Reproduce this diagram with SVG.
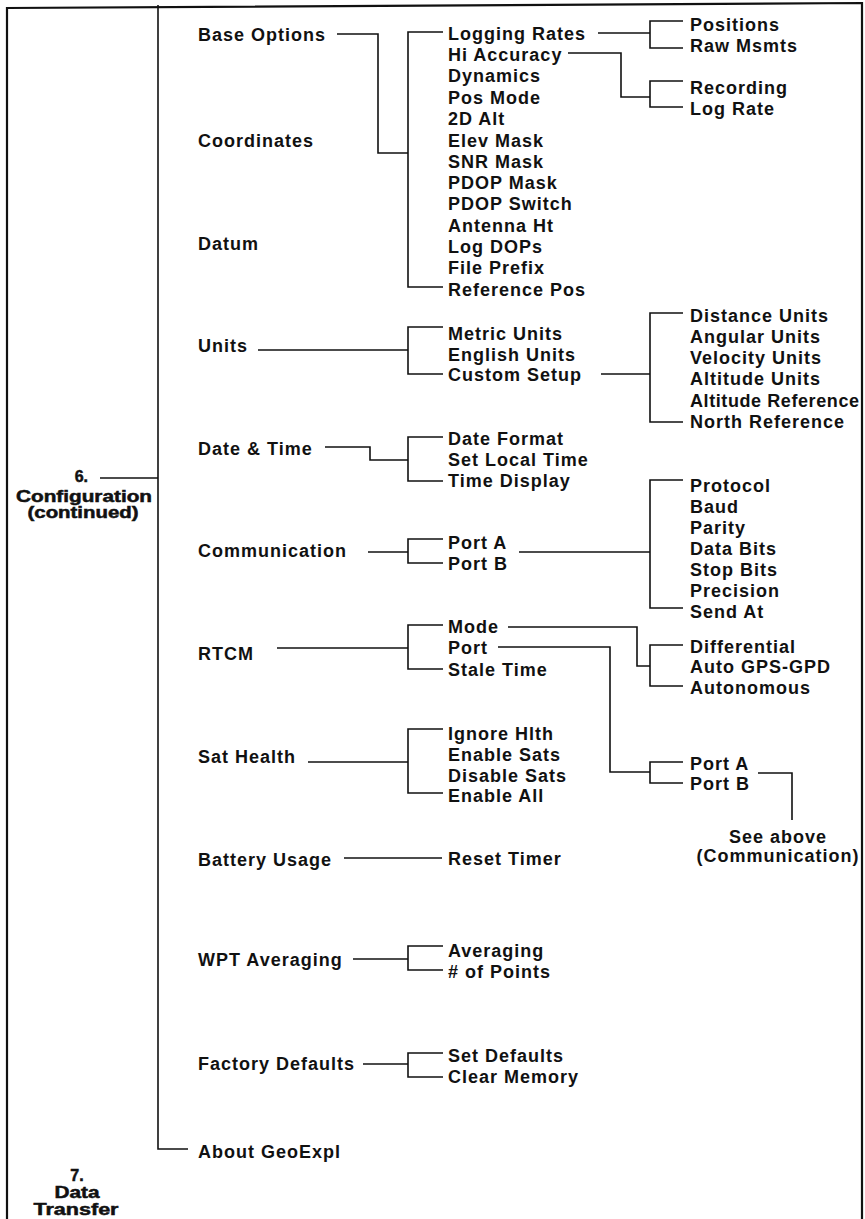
<svg xmlns="http://www.w3.org/2000/svg" width="865" height="1219" viewBox="0 0 865 1219">
<style>
.t{font-family:"Liberation Sans",Arial,sans-serif;font-size:18px;font-weight:bold;letter-spacing:1px;fill:#111}
.h{font-family:"Liberation Sans",Arial,sans-serif;font-size:16px;font-weight:bold;fill:#111;stroke:#111;stroke-width:0.5;text-anchor:middle}
.m{text-anchor:middle}
.e{text-anchor:end}
.c{fill:none;stroke:#111;stroke-width:1.6}
.f{fill:none;stroke:#111;stroke-width:2.2}
</style>
<rect width="865" height="1219" fill="#fff"/>
<path class="f" d="M7,1219 V8 L862,3 V1219"/>
<g id="connectors">
<path class="c" d="M158,5 V1149 H188"/>
<path class="c" d="M100,478 H158"/>
<path class="c" d="M337,34 H378 V153 H408"/>
<path class="c" d="M443,32 H408 V287 H443"/>
<path class="c" d="M598,33 H650"/>
<path class="c" d="M683,21 H650 V48 H683"/>
<path class="c" d="M568,53 H621 V97 H650"/>
<path class="c" d="M683,81 H650 V107 H683"/>
<path class="c" d="M258,350 H408"/>
<path class="c" d="M443,327 H408 V374 H443"/>
<path class="c" d="M601,374 H650"/>
<path class="c" d="M683,313 H650 V422 H683"/>
<path class="c" d="M325,447 H370 V460 H408"/>
<path class="c" d="M443,437 H408 V481 H443"/>
<path class="c" d="M368,552 H408"/>
<path class="c" d="M443,539 H408 V563 H443"/>
<path class="c" d="M519,552 H650"/>
<path class="c" d="M683,480 H650 V608 H683"/>
<path class="c" d="M277,648 H408"/>
<path class="c" d="M443,625 H408 V669 H443"/>
<path class="c" d="M508,627 H637 V666 H650"/>
<path class="c" d="M683,645 H650 V686 H683"/>
<path class="c" d="M498,647 H610 V772 H650"/>
<path class="c" d="M683,762 H650 V783 H683"/>
<path class="c" d="M758,773 H792 V820"/>
<path class="c" d="M308,762 H408"/>
<path class="c" d="M443,729 H408 V793 H443"/>
<path class="c" d="M344,858 H442"/>
<path class="c" d="M353,959 H408"/>
<path class="c" d="M443,946 H408 V970 H443"/>
<path class="c" d="M363,1064 H408"/>
<path class="c" d="M443,1053 H408 V1077 H443"/>
</g>
<g id="n-config">
<text class="h e" x="88" y="482" style="text-anchor:end">6.</text>
<text class="h" x="84" y="502" textLength="136" lengthAdjust="spacingAndGlyphs">Configuration</text>
<text class="h" x="83" y="518" textLength="111" lengthAdjust="spacingAndGlyphs">(continued)</text>
</g>
<g id="n-datatransfer">
<text class="h" x="77" y="1181">7.</text>
<text class="h" x="77" y="1198" textLength="45" lengthAdjust="spacingAndGlyphs">Data</text>
<text class="h" x="76" y="1215" textLength="85" lengthAdjust="spacingAndGlyphs">Transfer</text>
</g>
<g id="n-baseoptions"><text class="t" x="198" y="40.5">Base Options</text></g>
<g id="n-coordinates"><text class="t" x="198" y="146.5">Coordinates</text></g>
<g id="n-datum"><text class="t" x="198" y="250">Datum</text></g>
<g id="n-units"><text class="t" x="198" y="352">Units</text></g>
<g id="n-datetime"><text class="t" x="198" y="455">Date &amp; Time</text></g>
<g id="n-communication"><text class="t" x="198" y="557">Communication</text></g>
<g id="n-rtcm"><text class="t" x="198" y="660">RTCM</text></g>
<g id="n-sathealth"><text class="t" x="198" y="763">Sat Health</text></g>
<g id="n-battery"><text class="t" x="198" y="866">Battery Usage</text></g>
<g id="n-wpt"><text class="t" x="198" y="966">WPT Averaging</text></g>
<g id="n-factory"><text class="t" x="198" y="1070">Factory Defaults</text></g>
<g id="n-about"><text class="t" x="198" y="1158">About GeoExpl</text></g>
<g id="n-baseoptions-list">
<text class="t" x="448" y="39.5">Logging Rates</text>
<text class="t" x="448" y="61">Hi Accuracy</text>
<text class="t" x="448" y="82">Dynamics</text>
<text class="t" x="448" y="104">Pos Mode</text>
<text class="t" x="448" y="125">2D Alt</text>
<text class="t" x="448" y="146.5">Elev Mask</text>
<text class="t" x="448" y="168">SNR Mask</text>
<text class="t" x="448" y="189">PDOP Mask</text>
<text class="t" x="448" y="210">PDOP Switch</text>
<text class="t" x="448" y="231.5">Antenna Ht</text>
<text class="t" x="448" y="253">Log DOPs</text>
<text class="t" x="448" y="274">File Prefix</text>
<text class="t" x="448" y="295.5">Reference Pos</text>
</g>
<g id="n-logging-list">
<text class="t" x="690" y="30.5">Positions</text>
<text class="t" x="690" y="51.5">Raw Msmts</text>
</g>
<g id="n-hiacc-list">
<text class="t" x="690" y="94">Recording</text>
<text class="t" x="690" y="115">Log Rate</text>
</g>
<g id="n-units-list">
<text class="t" x="448" y="340">Metric Units</text>
<text class="t" x="448" y="360.5">English Units</text>
<text class="t" x="448" y="381">Custom Setup</text>
</g>
<g id="n-custom-list">
<text class="t" x="690" y="322">Distance Units</text>
<text class="t" x="690" y="343">Angular Units</text>
<text class="t" x="690" y="364">Velocity Units</text>
<text class="t" x="690" y="385">Altitude Units</text>
<text class="t" x="690" y="406.5" textLength="170" lengthAdjust="spacing">Altitude Reference</text>
<text class="t" x="690" y="428">North Reference</text>
</g>
<g id="n-datetime-list">
<text class="t" x="448" y="445">Date Format</text>
<text class="t" x="448" y="466">Set Local Time</text>
<text class="t" x="448" y="487">Time Display</text>
</g>
<g id="n-comm-list">
<text class="t" x="448" y="549">Port A</text>
<text class="t" x="448" y="569.5">Port B</text>
</g>
<g id="n-port-list">
<text class="t" x="690" y="491.5">Protocol</text>
<text class="t" x="690" y="512.5">Baud</text>
<text class="t" x="690" y="533.5">Parity</text>
<text class="t" x="690" y="554.5">Data Bits</text>
<text class="t" x="690" y="575.5">Stop Bits</text>
<text class="t" x="690" y="596.5">Precision</text>
<text class="t" x="690" y="617.5">Send At</text>
</g>
<g id="n-rtcm-list">
<text class="t" x="448" y="633">Mode</text>
<text class="t" x="448" y="654">Port</text>
<text class="t" x="448" y="676">Stale Time</text>
</g>
<g id="n-mode-list">
<text class="t" x="690" y="652.5">Differential</text>
<text class="t" x="690" y="673">Auto GPS-GPD</text>
<text class="t" x="690" y="694">Autonomous</text>
</g>
<g id="n-rtcmport-list">
<text class="t" x="690" y="769.5">Port A</text>
<text class="t" x="690" y="790">Port B</text>
</g>
<g id="n-seeabove">
<text class="t m" x="778" y="843">See above</text>
<text class="t m" x="778" y="862">(Communication)</text>
</g>
<g id="n-sathealth-list">
<text class="t" x="448" y="740">Ignore Hlth</text>
<text class="t" x="448" y="761">Enable Sats</text>
<text class="t" x="448" y="781.5">Disable Sats</text>
<text class="t" x="448" y="802">Enable All</text>
</g>
<g id="n-reset"><text class="t" x="448" y="865">Reset Timer</text></g>
<g id="n-wpt-list">
<text class="t" x="448" y="956.5">Averaging</text>
<text class="t" x="448" y="978"># of Points</text>
</g>
<g id="n-factory-list">
<text class="t" x="448" y="1062">Set Defaults</text>
<text class="t" x="448" y="1082.5">Clear Memory</text>
</g>
</svg>
